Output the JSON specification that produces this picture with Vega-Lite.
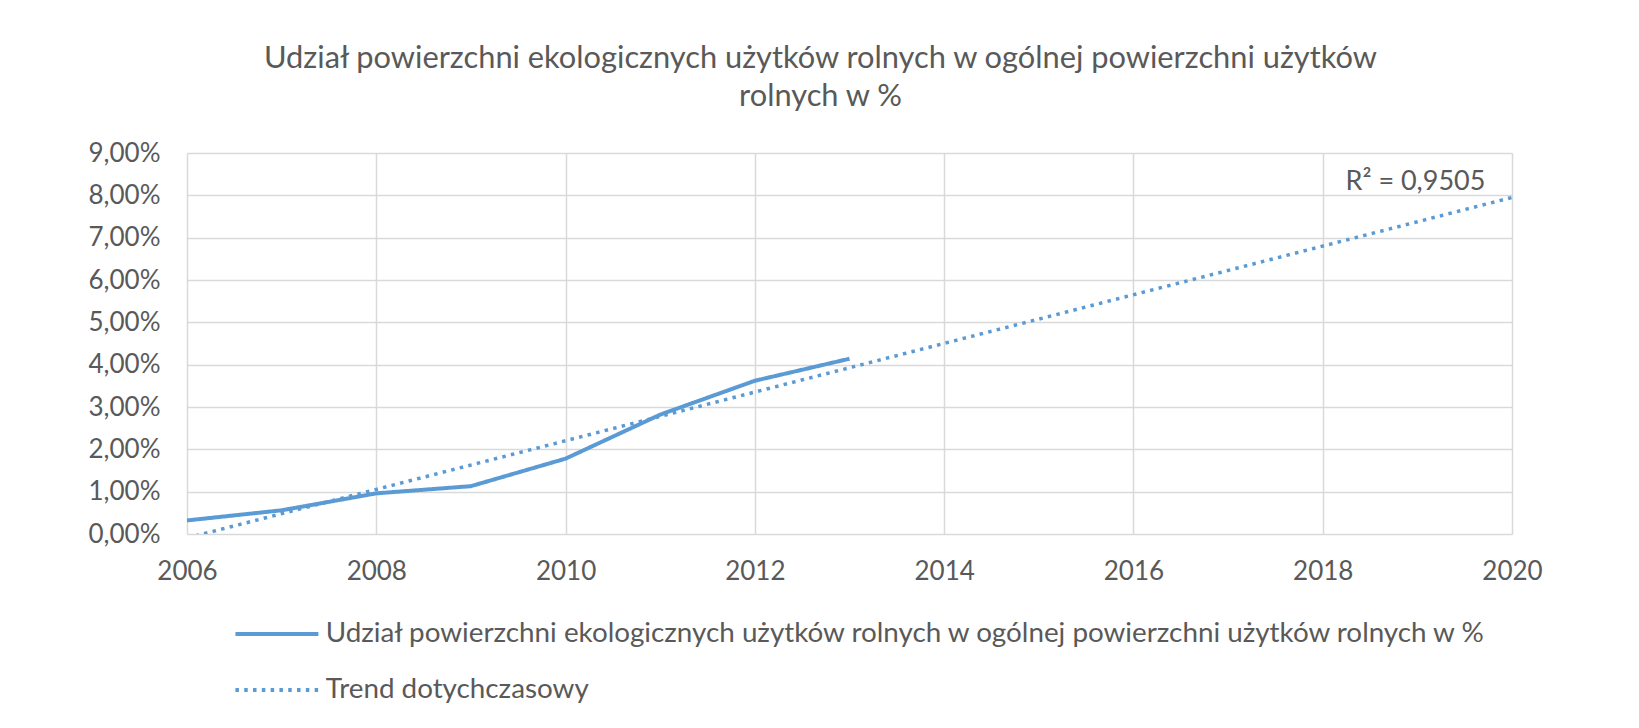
{
  "$schema": "https://vega.github.io/schema/vega-lite/v6.json",
  "width": 1325,
  "height": 381,
  "autosize": {"type": "none"},
  "padding": {"left": 187, "top": 153, "right": 127, "bottom": 194},
  "background": "white",
  "title": {
    "text": ["Udział powierzchni ekologicznych użytków rolnych w ogólnej powierzchni użytków", "rolnych w %"],
    "font": "Lato",
    "fontSize": 30.8,
    "fontWeight": "normal",
    "color": "#595959",
    "lineHeight": 38.5,
    "anchor": "middle",
    "frame": "group",
    "dx": -29,
    "offset": 27
  },
  "data": {
    "values": [
      {"year": 2006, "value": 0.0032},
      {"year": 2007, "value": 0.0056},
      {"year": 2008, "value": 0.0096},
      {"year": 2009, "value": 0.0113},
      {"year": 2010, "value": 0.0178},
      {"year": 2011, "value": 0.0282},
      {"year": 2012, "value": 0.0362},
      {"year": 2013, "value": 0.0414}
    ]
  },
  "layer": [
    {
      "mark": {"type": "line", "color": "#5B9BD5", "strokeWidth": 4, "clip": true},
      "encoding": {
        "x": {"field": "year", "type": "quantitative", "scale": {"domain": [2006, 2020], "nice": false, "zero": false},
          "axis": {"values": [2006, 2008, 2010, 2012, 2014, 2016, 2018, 2020], "format": "d", "title": null}},
        "y": {"field": "value", "type": "quantitative", "scale": {"domain": [0, 0.09], "nice": false},
          "axis": {"values": [0, 0.01, 0.02, 0.03, 0.04, 0.05, 0.06, 0.07, 0.08, 0.09], "title": null,
            "labelExpr": "replace(format(datum.value, '.2%'), '.', ',')", "labelPadding": 27}},
        "strokeDash": {"datum": "Udział powierzchni ekologicznych użytków rolnych w ogólnej powierzchni użytków rolnych w %",
          "scale": {"domain": ["Udział powierzchni ekologicznych użytków rolnych w ogólnej powierzchni użytków rolnych w %", "Trend dotychczasowy"],
            "range": [[1, 0], [3.5, 5.3]]},
          "legend": {"orient": "none", "legendX": 76, "legendY": 467, "title": null}}
      }
    },
    {
      "transform": [{"regression": "value", "on": "year", "extent": [2006, 2020]}],
      "mark": {"type": "line", "color": "#5B9BD5", "strokeWidth": 3.5, "clip": true},
      "encoding": {
        "x": {"field": "year", "type": "quantitative"},
        "y": {"field": "value", "type": "quantitative"},
        "strokeDash": {"datum": "Trend dotychczasowy"}
      }
    },
    {
      "data": {"values": [{"label": "R² = 0,9505"}]},
      "mark": {"type": "text", "font": "Lato", "fontSize": 27, "fontWeight": "normal", "fill": "#595959", "align": "center", "baseline": "middle"},
      "encoding": {
        "x": {"datum": 2018.98},
        "y": {"datum": 0.0832},
        "text": {"field": "label"}
      }
    }
  ],
  "config": {
    "view": {"stroke": null},
    "font": "Lato",
    "axis": {
      "labelFont": "Lato",
      "labelFontSize": 26,
      "labelColor": "#595959",
      "gridColor": "#D9D9D9",
      "gridWidth": 1.5,
      "domain": false,
      "ticks": false
    },
    "axisX": {"labelPadding": 24, "labelFlush": false},
    "axisY": {"labelPadding": 27},
    "legend": {
      "labelFont": "Lato",
      "labelFontSize": 27.8,
      "labelColor": "#595959",
      "labelLimit": 2000,
      "labelOffset": 35,
      "symbolType": "M-4,0L4,0",
      "symbolSize": 430,
      "symbolStrokeWidth": 4,
      "symbolStrokeColor": "#5B9BD5",
      "symbolFillColor": "transparent",
      "rowPadding": 27,
      "direction": "vertical"
    }
  }
}
